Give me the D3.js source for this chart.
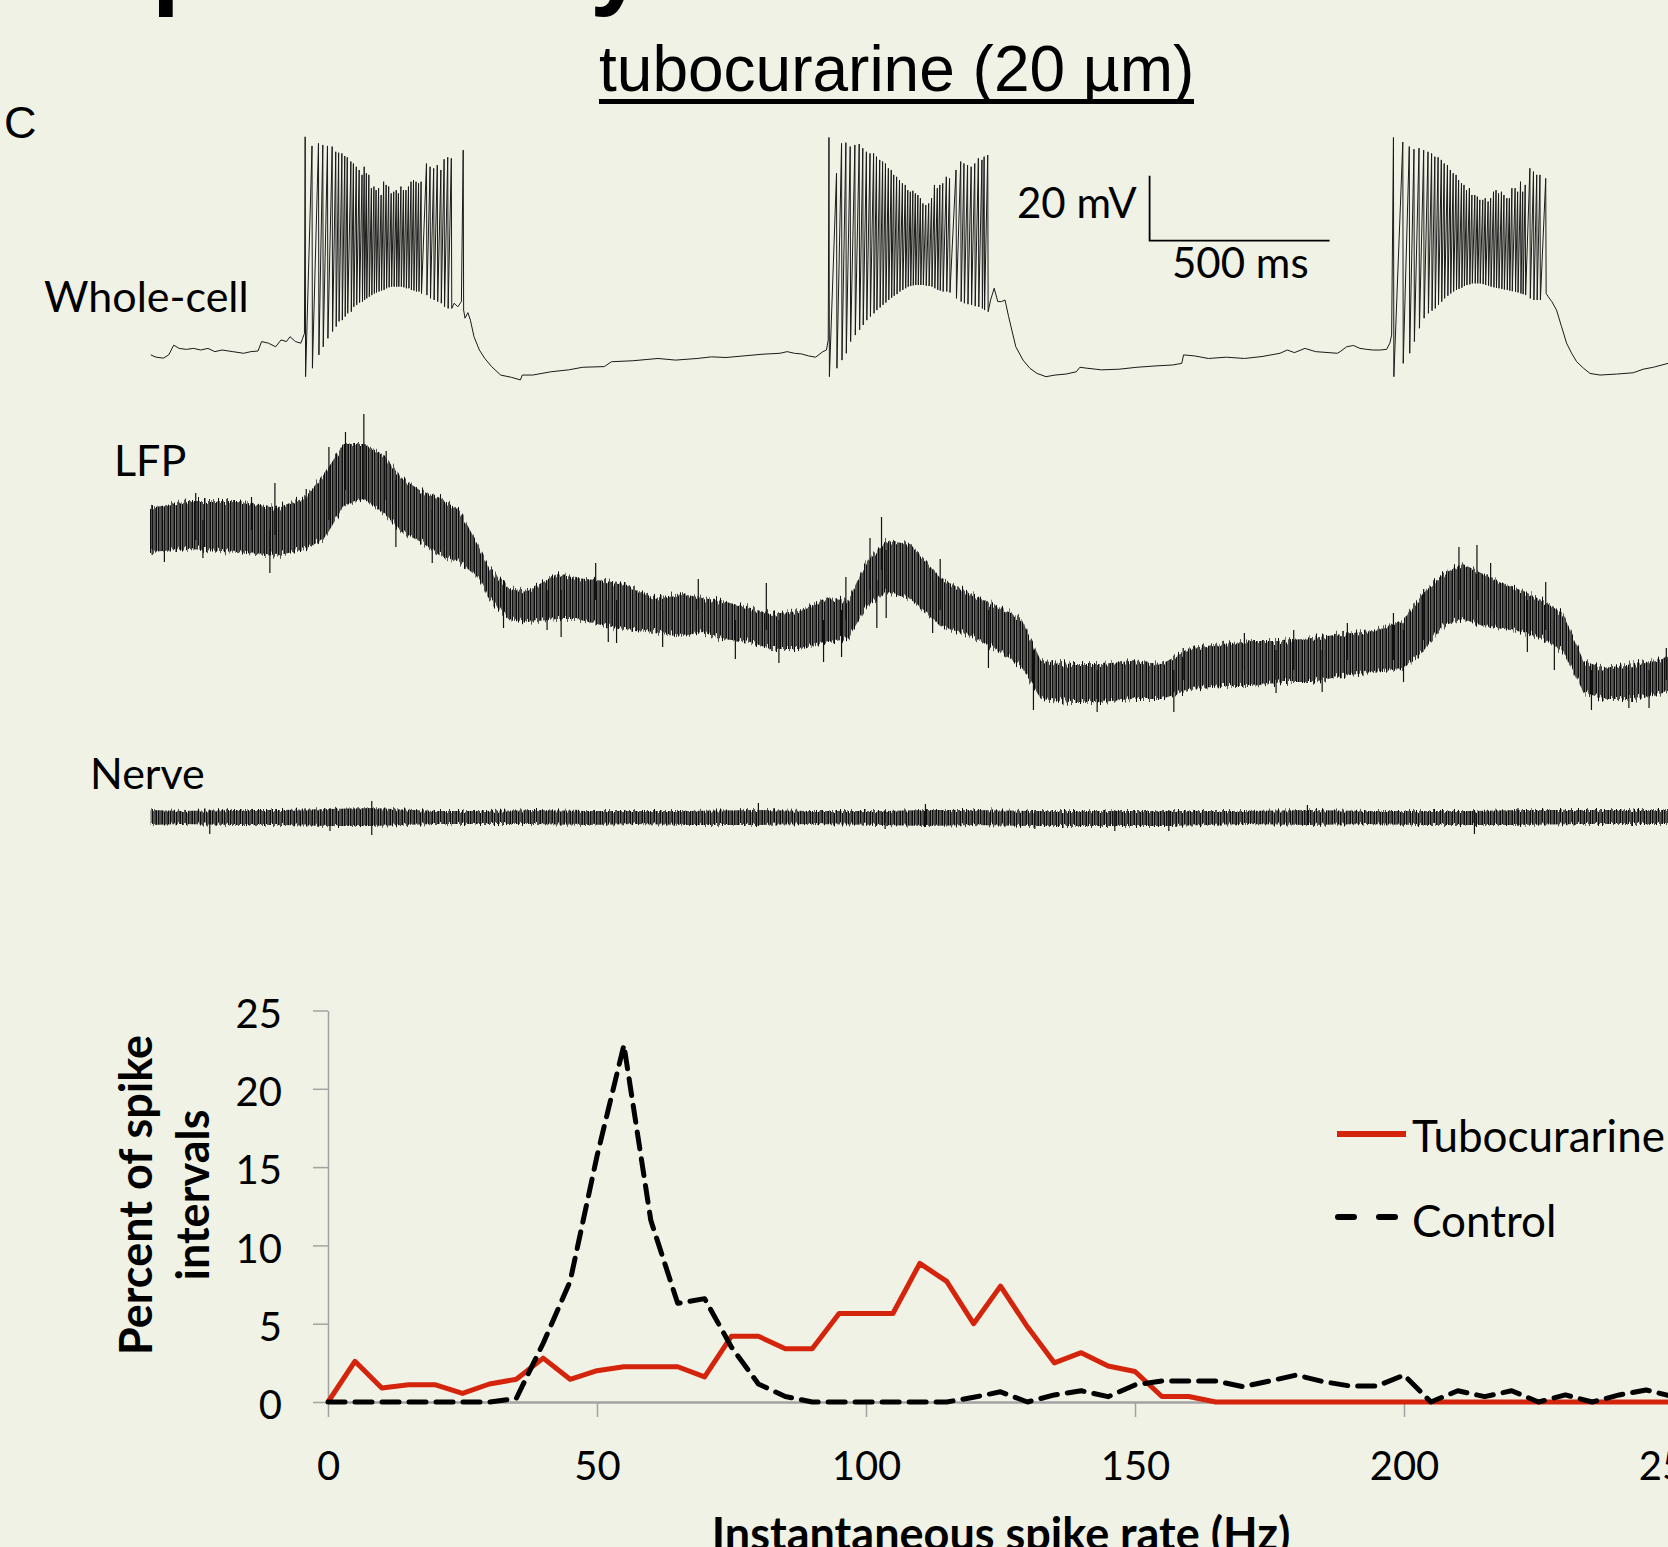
<!DOCTYPE html>
<html>
<head>
<meta charset="utf-8">
<script src="https://cdn.jsdelivr.net/npm/d3@7"></script>
<style>
  body { margin: 0; background: #eff2e5; }
  svg { display: block; }
</style>
</head>
<body>
<svg width="1668" height="1547"></svg>
<script>
const width = 1668;
const height = 1547;

// ---------- traces (time in ms) ----------

// whole-cell membrane potential between spikes [ms, mV]
const wholeCellMembrane = [
  [2,-61.2],[17,-61.9],[37,-62.2],[52,-61.2],[66,-58.2],[81,-59.2],[101,-59.5],[121,-59.2],[141,-59.7],[161,-59.2],
  [180,-60.2],[200,-59.7],[230,-60.2],[260,-60.7],[280,-60.2],[300,-60.0],[310,-57.1],[329,-57.6],[349,-58.7],[364,-56.6],
  [379,-57.1],[389,-55.6],[404,-57.1],[419,-57.6],[424,-56.1],[429,-54.6],
  [845,-45.3],[855,-46.4],[865,-44.8],
  [875,-49.9],[883,-48.2],[890,-50.5],[900,-55.6],[915,-59.7],[930,-62.3],[949,-64.8],[974,-67.4],[1004,-68.1],[1029,-68.9],
  [1034,-67.4],[1063,-67.4],[1113,-66.4],[1163,-65.8],[1202,-65.0],[1262,-64.8],[1282,-63.3],[1341,-63.0],[1411,-62.3],
  [1460,-62.8],[1520,-62.3],[1560,-61.8],[1600,-62.0],[1650,-61.5],[1700,-61.0],
  [1750,-60.7],[1770,-60.2],[1790,-60.7],[1810,-60.9],[1829,-61.5],[1849,-61.9],[1869,-60.2],[1879,-59.7],[1884,-56.6],
  [2335,-44.3],[2345,-40.7],[2355,-44.8],[2365,-44.8],[2375,-44.3],[2385,-49.4],[2405,-58.7],[2425,-62.8],[2444,-65.3],
  [2464,-66.9],[2489,-67.9],[2514,-67.4],[2544,-67.1],[2573,-66.4],[2583,-65.0],[2603,-65.3],[2643,-65.8],[2692,-65.6],
  [2742,-65.0],[2792,-64.6],[2841,-64.3],[2866,-63.8],[2871,-61.2],[2901,-61.5],[2940,-62.3],[2990,-61.9],[3040,-62.3],
  [3089,-61.7],[3139,-60.7],[3159,-59.7],[3179,-60.5],[3208,-59.2],[3238,-60.2],[3298,-60.7],
  [3306,-60.2],[3324,-58.7],[3343,-58.3],[3361,-59.2],[3380,-59.5],[3398,-59.7],[3417,-59.7],[3435,-59.5],[3444,-57.6],[3449,-55.1],
  [3884,-43.3],[3894,-44.8],[3907,-47.4],[3921,-52.5],[3935,-57.6],[3949,-60.7],[3963,-63.3],[3982,-65.3],[4000,-66.9],
  [4028,-67.4],[4074,-67.1],[4120,-66.7],[4148,-65.6],[4176,-65.0],[4217,-63.8]
];

// spikes of each burst [ms, peak mV, trough mV]
const burst1 = [
  [431,5.9,-67.9],[450,3.1,-65.3],[468,3.9,-61.2],[480,3.4,-58.7],[493,3.1,-56.1],[506,2.9,-54.0],[516,1.3,-52.5],
  [524,1.0,-50.9],[533,0.8,-50.5],[541,0.0,-49.4],[548,-0.4,-48.4],[558,-1.7,-47.9],[565,-2.3,-46.4],[573,-3.3,-45.8],
  [581,-4.3,-45.1],[589,-5.8,-44.8],[595,-3.3,-44.3],[601,-5.3,-43.8],[608,-5.8,-43.3],[615,-9.9,-42.8],[622,-9.4,-42.3],
  [628,-10.5,-42.0],[635,-9.9,-41.7],[642,-12.0,-41.4],[649,-7.9,-41.2],[656,-8.9,-40.7],[663,-9.4,-40.4],[670,-11.5,-40.2],
  [677,-11.0,-40.2],[684,-10.5,-40.2],[690,-11.5,-40.2],[697,-9.4,-40.2],[704,-10.5,-40.4],[711,-10.5,-40.7],[718,-9.4,-40.7],
  [725,-7.9,-41.2],[732,-7.4,-41.4],[739,-7.9,-41.7],[746,-8.4,-41.7],[753,-7.9,-42.3],[768,-2.3,-42.8],[778,-3.3,-43.8],
  [788,-3.8,-44.3],[798,-2.8,-44.8],[808,-4.3,-45.3],[817,-1.0,-46.4],[827,-0.4,-46.9],[837,-0.7,-46.9],[870,1.8,-47.4]
];
const burst2 = [
  [1886,5.7,-67.9],[1907,-5.3,-65.3],[1921,3.9,-62.8],[1933,4.1,-60.7],[1945,2.9,-57.1],[1958,3.4,-55.1],[1970,3.7,-53.5],
  [1980,2.4,-52.0],[1990,1.3,-50.5],[2000,0.8,-49.4],[2010,0.8,-48.4],[2018,-0.2,-47.4],[2027,-1.2,-46.6],[2035,-1.7,-45.8],
  [2043,-2.3,-45.1],[2051,-3.8,-44.3],[2059,-4.3,-43.6],[2066,-5.8,-43.0],[2074,-6.4,-42.5],[2082,-7.4,-41.7],[2090,-8.4,-41.2],
  [2098,-8.9,-40.7],[2105,-10.5,-40.2],[2112,-11.0,-40.0],[2119,-10.7,-39.8],[2126,-11.5,-39.7],[2133,-12.0,-39.7],
  [2140,-13.0,-39.7],[2147,-14.6,-39.7],[2155,-15.1,-39.9],[2163,-14.6,-40.0],[2171,-13.0,-40.2],[2179,-8.9,-40.7],
  [2187,-9.9,-41.2],[2194,-8.9,-41.4],[2202,-8.4,-41.7],[2212,-6.4,-41.7],[2221,-6.9,-42.0],[2239,-4.3,-43.8],[2252,-1.7,-44.8],
  [2261,-2.3,-45.3],[2271,-2.8,-45.6],[2281,-3.3,-45.8],[2291,-2.3,-46.2],[2301,-0.7,-46.4],[2311,-1.2,-46.9],
  [2317,-0.2,-47.4],[2327,0.3,-47.9]
];
const burst3 = [
  [3454,5.7,-67.9],[3480,4.3,-63.8],[3498,2.9,-60.7],[3511,2.1,-57.1],[3525,2.4,-53.0],[3538,1.8,-49.9],[3550,1.3,-48.4],
  [3560,0.8,-47.6],[3569,-0.2,-46.9],[3578,-0.4,-45.8],[3587,-1.2,-44.8],[3595,-2.3,-43.8],[3604,-2.8,-43.0],[3612,-4.3,-42.3],
  [3620,-5.3,-41.7],[3628,-5.8,-41.2],[3635,-7.4,-40.9],[3643,-8.4,-40.5],[3650,-8.9,-40.0],[3657,-10.5,-39.7],[3665,-9.9,-39.5],
  [3672,-12.0,-39.2],[3680,-12.0,-39.2],[3687,-12.5,-39.2],[3694,-13.5,-39.2],[3702,-13.5,-39.4],[3709,-13.0,-39.7],
  [3717,-14.0,-39.9],[3724,-13.0,-40.2],[3732,-11.0,-40.4],[3739,-10.5,-40.6],[3746,-11.5,-40.7],[3754,-11.0,-40.9],
  [3761,-12.0,-41.1],[3769,-13.0,-41.2],[3776,-13.0,-41.4],[3783,-9.9,-41.6],[3792,-9.9,-41.8],[3799,-11.0,-42.0],
  [3807,-7.9,-42.3],[3813,-11.0,-42.5],[3820,-8.9,-42.8],[3833,-3.8,-43.8],[3843,-4.8,-44.3],[3852,-5.8,-44.3],
  [3861,-5.8,-44.3],[3877,-6.9,-42.3]
];

// LFP noise band [ms, upper, lower] (arbitrary units)
const lfpBand = [
  [0,52,8],[107,59,11],[242,59,8],[349,52,4],[430,62,11],[484,86,21],[538,116,54],[592,116,61],[646,106,48],
  [699,82,28],[753,69,18],[807,62,4],[861,49,-2],[915,12,-19],[942,-8,-39],[996,-28,-59],[1049,-31,-62],[1130,-14,-59],
  [1184,-18,-59],[1265,-21,-66],[1319,-24,-69],[1400,-38,-72],[1480,-34,-76],[1534,-38,-72],[1588,-41,-79],[1669,-48,-82],
  [1723,-54,-89],[1803,-51,-89],[1884,-38,-82],[1938,-41,-79],[1992,-1,-46],[2046,19,-32],[2112,16,-39],[2195,-18,-66],
  [2279,-34,-76],[2363,-48,-92],[2419,-58,-106],[2475,-101,-139],[2558,-104,-142],[2642,-104,-142],[2726,-101,-139],
  [2810,-104,-139],[2893,-88,-129],[2977,-84,-126],[3061,-81,-126],[3145,-81,-122],[3228,-78,-122],[3312,-74,-116],
  [3396,-71,-112],[3480,-61,-109],[3535,-34,-92],[3591,-14,-66],[3647,-4,-59],[3703,-14,-66],[3759,-24,-69],
  [3815,-31,-72],[3870,-41,-79],[3926,-54,-92],[3982,-101,-132],[4038,-108,-139],[4122,-104,-139],[4217,-98,-132]
];
// LFP single deflections sticking out of the band [ms, top, bottom]
const lfpSpikes = [
  [6,55,5],[40,40,-2],[127,67,20],[147,40,2],[282,63,30],[333,30,-13],[347,77,25],[434,71,20],[497,113,40],[543,128,70],
  [594,146,60],[656,109,60],[683,80,13],[784,50,-3],[982,-20,-68],[1103,-30,-70],[1142,-30,-77],[1238,-3,-40],[1273,-40,-82],
  [1296,-40,-83],[1424,-50,-87],[1523,-19,-50],[1626,-60,-99],[1712,-23,-70],[1747,-60,-103],[1871,-60,-102],[1921,-50,-97],
  [1933,-17,-60],[2000,22,-30],[2019,-20,-68],[2032,43,-10],[2045,10,-58],[2174,-20,-73],[2195,1,-50],[2329,-50,-108],
  [2454,-90,-150],[2631,-110,-152],[2844,-110,-152],[2870,-88,-120],[3040,-73,-110],[3128,-90,-133],[3177,-70,-110],
  [3256,-90,-132],[3326,-63,-100],[3454,-53,-100],[3482,-70,-122],[3538,-29,-80],[3636,13,-40],[3686,15,-40],
  [3724,-3,-50],[3826,-40,-92],[3877,-22,-70],[3901,-60,-110],[4004,-110,-150],[4108,-110,-148],[4164,-110,-148],[4212,-88,-120]
];

// nerve noise band [ms, upper, lower]
const nerveBand = [
  [2,7,-8],[87,6,-7],[228,7,-8],[368,7,-8],[500,8,-9],[616,9,-9],[790,6,-7],[931,6,-7],[1071,7,-7],[1212,6,-8],
  [1353,6,-7],[1493,6,-8],[1690,7,-8],[1831,6,-7],[2042,6,-8],[2154,7,-9],[2281,7,-8],[2450,6,-9],[2680,6,-9],
  [2830,6,-9],[3040,6,-7],[3215,7,-8],[3378,6,-7],[3519,6,-8],[3679,6,-8],[3800,7,-8],[3969,7,-7],[4138,7,-7],[4217,7,-7]
];
const nerveSpikes = [
  [166,7,-17],[500,9,-14],[616,16,-18],[1690,14,-9],[2042,7,-12],[2154,13,-10],[2458,7,-12],[2680,7,-14],
  [2830,7,-14],[3215,12,-8],[3679,7,-17],[3800,9,-9]
];

// ---------- histogram ----------
const rateHz = [0,5,10,15,20,25,30,35,40,45,50,55,60,65,70,75,80,85,90,95,100,105,110,115,120,125,
  130,135,140,145,150,155,160,165,170,175,180,185,190,195,200,205,210,215,220,225,230,235,240,245,250,255];
const tubocurarine = [0,2.6,0.9,1.1,1.1,0.55,1.15,1.45,2.8,1.45,2.0,2.25,2.25,2.25,1.6,4.2,4.2,3.4,3.4,5.65,5.65,5.65,
  8.85,7.7,5.0,7.4,4.8,2.5,3.15,2.3,1.95,0.35,0.35,0,0,0,0,0,0,0,0,0,0,0,0,0,0,0,0,0,0,0];
const control = [0,0,0,0,0,0,0,0.23,3.75,7.7,15.7,22.8,11.6,6.3,6.6,3.5,1.15,0.35,0,0,0,0,0,0,0.3,0.65,
  0,0.45,0.72,0.34,1.09,1.34,1.34,1.34,0.98,1.34,1.72,1.3,1.02,1.02,1.72,0,0.72,0.34,0.72,0,0.45,0,0.45,0.77,0.34,0];
const xTicks = [0,50,100,150,200,250];
const yTicks = [0,5,10,15,20,25];

const svg = d3.select("svg");
const sans = "Lato, 'Open Sans', sans-serif";
const arial = "'Liberation Sans', Arial, sans-serif";

const defs = svg.append("defs");

// texture for the dense noise traces
const pat = defs.append("pattern")
    .attr("id", "noise")
    .attr("patternUnits", "userSpaceOnUse")
    .attr("width", 6)
    .attr("height", 20);
[[0, 1.4], [1.8, 1.2], [3.3, 1.4], [5.0, 0.8]].forEach(s => {
  pat.append("rect").attr("x", s[0]).attr("y", 0).attr("width", s[1]).attr("height", 20).attr("fill", "#0d0d0d");
});

// ragged edge for the noise bands (only shifts columns up/down)
function raggedFilter(id, scale) {
  const f = defs.append("filter").attr("id", id)
      .attr("x", "-1%").attr("y", "-60%").attr("width", "102%").attr("height", "220%");
  f.append("feTurbulence").attr("type", "fractalNoise").attr("baseFrequency", "0.45 0")
      .attr("numOctaves", 2).attr("seed", 7).attr("result", "turb");
  f.append("feColorMatrix").attr("in", "turb").attr("type", "matrix")
      .attr("values", "1 0 0 0 0  0 0 0 0 0.5  0 0 0 0 0  0 0 0 0 1").attr("result", "map");
  f.append("feDisplacementMap").attr("in", "SourceGraphic").attr("in2", "map")
      .attr("scale", scale).attr("xChannelSelector", "G").attr("yChannelSelector", "R");
}
raggedFilter("ragLfp", 16);
raggedFilter("ragNerve", 9);

// clipped heading at the very top
svg.append("text").attr("x", 152).attr("y", -4)
    .attr("font-family", arial).attr("font-weight", "bold").attr("font-size", 100)
    .text("p");
svg.append("text").attr("x", 590).attr("y", -4)
    .attr("font-family", arial).attr("font-weight", "bold").attr("font-size", 100)
    .text("y");

// title
svg.append("text")
    .attr("x", 599).attr("y", 91)
    .attr("font-family", arial)
    .attr("font-size", 64)
    .text("tubocurarine (20 µm)");
svg.append("line")
    .attr("x1", 599).attr("x2", 1194).attr("y1", 101.5).attr("y2", 101.5)
    .attr("stroke", "#000").attr("stroke-width", 5);

svg.append("text").attr("x", 4).attr("y", 138)
    .attr("font-family", arial).attr("font-size", 45)
    .text("C");

// trace labels
const labels = [["Whole-cell", 44, 312], ["LFP", 114, 476], ["Nerve", 90, 789]];
svg.selectAll("text.lab").data(labels).enter().append("text")
    .attr("class", "lab")
    .attr("x", d => d[1]).attr("y", d => d[2])
    .attr("font-family", sans).attr("font-size", 43)
    .text(d => d[0]);

// scales
const xTime = d3.scaleLinear().domain([0, 500]).range([150, 330]);
const yVm = d3.scaleLinear().domain([-60, -40]).range([351, 286]);
const yLfp = d3.scaleLinear().domain([0, 100]).range([560, 460]);
const yNerve = d3.scaleLinear().domain([0, 10]).range([817, 807]);

// whole-cell trace: membrane points plus spike peaks/troughs in time order
const wcPoints = wholeCellMembrane.map(d => [d[0], d[1]]);
[burst1, burst2, burst3].forEach(b => b.forEach(s => {
  wcPoints.push([s[0], s[1]]);
  wcPoints.push([s[0] + 1.2, s[2]]);
}));
wcPoints.sort((a, b) => a[0] - b[0]);

svg.append("path")
    .attr("d", d3.line().x(d => xTime(d[0])).y(d => yVm(d[1]))(wcPoints))
    .attr("fill", "none")
    .attr("stroke", "#1a1a1a")
    .attr("stroke-width", 1)
    .attr("stroke-linejoin", "round");

// LFP
svg.append("path")
    .attr("d", d3.area().x(d => xTime(d[0])).y1(d => yLfp(d[1])).y0(d => yLfp(d[2]))(lfpBand))
    .attr("fill", "url(#noise)")
    .attr("filter", "url(#ragLfp)");
svg.selectAll("line.lfp").data(lfpSpikes).enter().append("line")
    .attr("class", "lfp")
    .attr("x1", d => xTime(d[0])).attr("x2", d => xTime(d[0]))
    .attr("y1", d => yLfp(d[1])).attr("y2", d => yLfp(d[2]))
    .attr("stroke", "#111").attr("stroke-width", 1.2);

// nerve
svg.append("path")
    .attr("d", d3.area().x(d => xTime(d[0])).y1(d => yNerve(d[1])).y0(d => yNerve(d[2]))(nerveBand))
    .attr("fill", "url(#noise)")
    .attr("filter", "url(#ragNerve)");
svg.selectAll("line.nerve").data(nerveSpikes).enter().append("line")
    .attr("class", "nerve")
    .attr("x1", d => xTime(d[0])).attr("x2", d => xTime(d[0]))
    .attr("y1", d => yNerve(d[1])).attr("y2", d => yNerve(d[2]))
    .attr("stroke", "#111").attr("stroke-width", 1.2);

// scale bar: 20 mV / 500 ms
const barX = 1149.6, barY = 240.7;
svg.append("path")
    .attr("d", `M${barX},${barY - (yVm(-60) - yVm(-40))}V${barY}H${barX + xTime(500) - xTime(0)}`)
    .attr("fill", "none").attr("stroke", "#000").attr("stroke-width", 1.8);
svg.append("text").attr("x", 1017).attr("y", 218)
    .attr("font-family", sans).attr("font-size", 42).text("20 mV");
svg.append("text").attr("x", 1172).attr("y", 278)
    .attr("font-family", sans).attr("font-size", 42).text("500 ms");

// ---------- histogram chart ----------
const xRate = d3.scaleLinear().domain([0, 250]).range([328, 1673]);
const yPct = d3.scaleLinear().domain([0, 25]).range([1402, 1010.5]);

const gy = svg.append("g")
    .attr("transform", "translate(328,0)")
    .call(d3.axisLeft(yPct).tickValues(yTicks).tickSize(15).tickSizeOuter(0).tickPadding(31));
const gx = svg.append("g")
    .attr("transform", "translate(0,1402)")
    .call(d3.axisBottom(xRate).tickValues(xTicks).tickSize(15).tickSizeOuter(0).tickPadding(35));

[gx, gy].forEach(g => {
  g.attr("font-family", sans).attr("font-size", 40);
  g.selectAll("text").attr("fill", "#000");
  g.selectAll("line").attr("stroke", "#a3a3a3").attr("stroke-width", 1.5);
});
gy.selectAll("text").attr("dy", "0.42em");
gy.select(".domain").attr("stroke", "#a3a3a3").attr("stroke-width", 1.5);
gx.select(".domain").attr("stroke", "#a3a3a3").attr("stroke-width", 2.5);

const rateLine = d3.line().x(d => xRate(d[0])).y(d => yPct(d[1]));

svg.append("path")
    .attr("d", rateLine(rateHz.map((h, i) => [h, tubocurarine[i]])))
    .attr("fill", "none").attr("stroke", "#d4240c").attr("stroke-width", 5)
    .attr("stroke-linejoin", "round");

svg.append("path")
    .attr("d", rateLine(rateHz.map((h, i) => [h, control[i]])))
    .attr("fill", "none").attr("stroke", "#000").attr("stroke-width", 5)
    .attr("stroke-dasharray", "17 10").attr("stroke-linecap", "round")
    .attr("stroke-linejoin", "round");

// axis titles
svg.append("text")
    .attr("x", 1001).attr("y", 1550)
    .attr("text-anchor", "middle")
    .attr("font-family", sans).attr("font-weight", "bold").attr("font-size", 45)
    .text("Instantaneous spike rate (Hz)");
svg.append("text")
    .attr("transform", "translate(152,1195) rotate(-90)")
    .attr("text-anchor", "middle")
    .attr("font-family", sans).attr("font-weight", "bold").attr("font-size", 45)
    .text("Percent of spike");
svg.append("text")
    .attr("transform", "translate(209,1195) rotate(-90)")
    .attr("text-anchor", "middle")
    .attr("font-family", sans).attr("font-weight", "bold").attr("font-size", 45)
    .text("intervals");

// legend
svg.append("line")
    .attr("x1", 1337).attr("x2", 1406).attr("y1", 1134).attr("y2", 1134)
    .attr("stroke", "#d4240c").attr("stroke-width", 6);
svg.append("text").attr("x", 1412).attr("y", 1152)
    .attr("font-family", sans).attr("font-size", 44).text("Tubocurarine");
svg.append("line")
    .attr("x1", 1338).attr("x2", 1397).attr("y1", 1217).attr("y2", 1217)
    .attr("stroke", "#000").attr("stroke-width", 6)
    .attr("stroke-dasharray", "16 25").attr("stroke-linecap", "round");
svg.append("text").attr("x", 1412).attr("y", 1237)
    .attr("font-family", sans).attr("font-size", 44).text("Control");
</script>
</body>
</html>
